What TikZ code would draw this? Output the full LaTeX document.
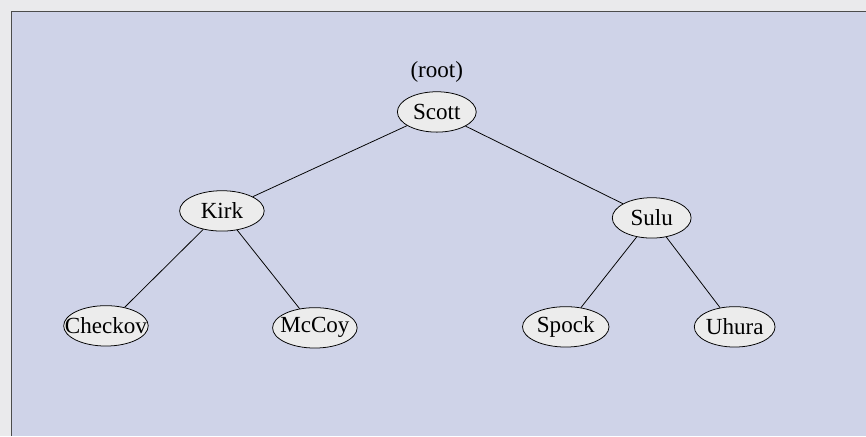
\documentclass[tikz,border=0pt]{standalone}
\usepackage{fontspec}
\setmainfont{Liberation Serif}
\usetikzlibrary{shapes.geometric}
\definecolor{panelblue}{HTML}{CFD3E8}
\definecolor{pagegray}{HTML}{EAEAEC}
\definecolor{nodegray}{HTML}{ECECEC}
\tikzset{person/.style={ellipse,draw=black,fill=nodegray,inner xsep=-14pt,inner ysep=-3pt,minimum width=44pt,minimum height=21pt,font=\fontsize{12}{14}\selectfont}}

\begin{document}
\begin{tikzpicture}[x=0.52pt,y=-0.52pt]
	% page and panel
	\fill[pagegray] (0,0) rectangle (866,436);
	\fill[panelblue] (11,11) rectangle (866,436);
	\draw[black!70,thin] (11,436) -- (11,11) -- (866,11);
	\useasboundingbox (0,0) rectangle (866,436);
	%%
	\node[person,minimum width=41pt] (scott) at (437,112) {Scott};
	\node[font=\fontsize{12}{14}\selectfont] (root) at (437,72) {(root)};
	%%
	\node[person] (kirk) at (222,211) {Kirk};
	\node[person,minimum width=41pt] (sulu) at (652,218) {Sulu};
	%%
	\node[person] (checkov) at (106,326) {Checkov};
	\node[person] (mccoy) at (315,328) {McCoy};
	\node[person,minimum width=45pt] (spock) at (566,327) {Spock};
	\node[person,minimum width=42pt] (uhura) at (735,327) {Uhura};
	
	\foreach \i/\j in {scott/kirk,scott/sulu,kirk/checkov,kirk/mccoy,sulu/spock,sulu/uhura} {
		\draw (\i)--(\j);
	}
\end{tikzpicture}
\end{document}
